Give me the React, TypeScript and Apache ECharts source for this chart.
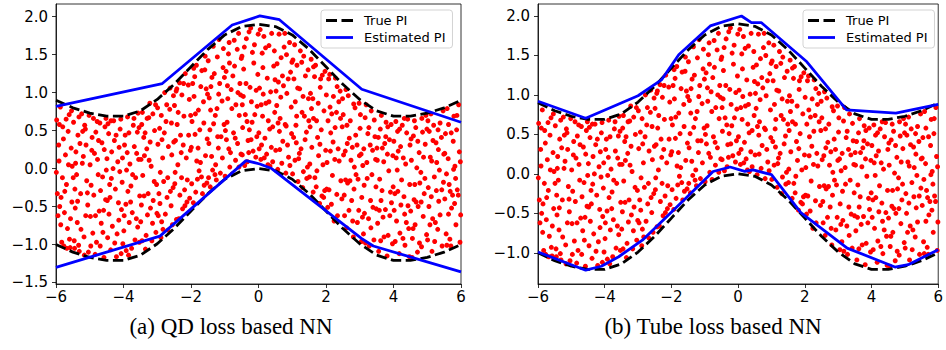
import { useEffect, useRef } from "react";
import * as echarts from "echarts";

// ---------- data ----------
const xTicks = [-6, -4, -2, 0, 2, 4, 6];
const yTicksQD = [-1.5, -1, -0.5, 0, 0.5, 1, 1.5, 2];
const yTicksTube = [-1, -0.5, 0, 0.5, 1, 1.5, 2];

const truePiX = [-6, -5.5, -5, -4.5, -4, -3.5, -3, -2.5, -2, -1.5, -1, -0.5, 0, 0.5, 1, 1.5, 2, 2.5, 3, 3.5, 4, 4.5, 5, 5.5, 6];
const truePiUpper = [0.9, 0.8, 0.73, 0.69, 0.69, 0.76, 0.91, 1.11, 1.34, 1.57, 1.76, 1.87, 1.9, 1.87, 1.76, 1.57, 1.34, 1.11, 0.91, 0.76, 0.69, 0.69, 0.73, 0.8, 0.9];
const truePiLower = [-1.0, -1.1, -1.17, -1.21, -1.21, -1.14, -0.99, -0.79, -0.56, -0.33, -0.14, -0.03, 0, -0.03, -0.14, -0.33, -0.56, -0.79, -0.99, -1.14, -1.21, -1.21, -1.17, -1.1, -1.0];

const qdUpperX = [-6, -2.85, -0.78, 0.04, 0.62, 3.06, 6];
const qdUpperY = [0.82, 1.12, 1.89, 2.01, 1.96, 1.045, 0.61];
const qdLowerX = [-6, -2.92, -0.37, 0.04, 0.39, 3.05, 3.4, 6];
const qdLowerY = [-1.3, -0.89, 0.105, 0.06, 0.0, -0.92, -1.02, -1.36];

const tubeUpperX = [-6, -4.57, -3.0, -2.3, -1.78, -0.835, 0.1, 0.4, 0.7, 2.06, 3.25, 4.73, 6];
const tubeUpperY = [0.92, 0.705, 0.99, 1.19, 1.51, 1.874, 2.0, 1.915, 1.915, 1.42, 0.81, 0.77, 0.88];
const tubeLowerX = [-6, -4.57, -4.1, -3.58, -2.87, -1.6, -0.75, -0.24, 0.2, 0.45, 1.0, 1.88, 3.27, 4.7, 5.1, 6];
const tubeLowerY = [-0.99, -1.22, -1.17, -1.05, -0.84, -0.32, 0.03, 0.087, 0.032, 0.05, -0.01, -0.49, -0.94, -1.18, -1.15, -0.96];

const samplePoints: [number, number][] = [
  [-5.96, -0.33], [-5.61, 0.71], [-5.83, -0.97], [-5.72, 0.18], [-5.53, -0.44], [-5.9, 0.58], [-5.66, -0.79], [-5.99, -0.05], [-5.78, 0.39], [-5.58, -1.04], [-5.87, 0.81], [-5.69, -0.21], [-5.94, -0.62], [-5.55, 0.27], [-5.81, -0.12], [-5.64, 0.49], [-5.75, -0.58], [-5.92, 0.31], [-5.6, -0.93], [-5.85, -0.38], [-5.7, 0.65], [-5.52, 0.03], [-5.77, -1.02],
  [-5.98, 0.64], [-5.86, -0.74], [-5.74, -0.3], [-5.63, 0.05], [-5.57, -0.66], [-5.91, 0.1], [-5.68, -1.05], [-5.8, 0.55], [-5.54, 0.76], [-5.89, -0.5],
  [-5.44, -0.27], [-5.13, 0.52], [-5.31, -1.09], [-5.06, -0.48], [-5.48, 0.61], [-5.22, 0.07], [-5.37, -0.71], [-5.02, 0.7], [-5.27, -0.33], [-5.41, 0.22], [-5.17, -0.9], [-5.35, 0.44], [-5.09, -0.16], [-5.46, -0.95], [-5.24, 0.72], [-5.12, -0.62], [-5.39, -0.08], [-5.29, 0.33], [-5.04, -1.1], [-5.19, 0.16], [-5.43, -0.52], [-5.33, -1.01], [-5.15, 0.57],
  [-5.49, -0.12], [-5.36, -0.43], [-5.26, -0.8], [-5.11, 0.31], [-5.42, 0.07], [-5.21, 0.49], [-5.07, -0.32], [-5.32, 0.68], [-5.45, -1.05], [-5.16, -1.14],
  [-4.93, 0.41], [-4.61, -0.84], [-4.77, 0.12], [-4.98, -0.63], [-4.55, 0.55], [-4.84, -1.13], [-4.68, -0.29], [-4.89, 0.66], [-4.72, -0.56], [-4.51, -0.02], [-4.96, -0.22], [-4.64, 0.34], [-4.8, -0.97], [-4.58, -1.17], [-4.86, 0.2], [-4.7, 0.6], [-4.53, -0.41], [-4.91, -0.85], [-4.75, -0.08], [-4.66, -0.72], [-4.82, 0.48], [-4.57, 0.25], [-4.99, 0.05],
  [-4.97, -1.02], [-4.88, -0.35], [-4.74, 0.37], [-4.62, -0.11], [-4.52, 0.66], [-4.83, -0.62], [-4.69, -1.02], [-4.59, -0.55], [-4.94, 0.24], [-4.78, 0.62],
  [-4.47, -0.91], [-4.13, 0.28], [-4.36, -0.13], [-4.21, -1.16], [-4.44, 0.46], [-4.06, -0.54], [-4.29, 0.63], [-4.4, -0.38], [-4.17, 0.09], [-4.02, -0.99], [-4.33, -0.76], [-4.49, 0.13], [-4.24, -0.27], [-4.1, 0.52], [-4.38, -1.07], [-4.27, 0.37], [-4.04, -0.18], [-4.43, -0.6], [-4.19, -0.86], [-4.31, 0.0], [-4.08, 0.65], [-4.46, 0.59], [-4.15, -0.45],
  [-4.48, -0.42], [-4.35, 0.22], [-4.26, -0.98], [-4.14, -0.68], [-4.03, 0.14], [-4.41, -0.21], [-4.22, 0.44], [-4.11, -0.04], [-4.37, 0.63], [-4.07, -1.12],
  [-3.97, 0.31], [-3.62, -0.66], [-3.85, -1.14], [-3.71, 0.57], [-3.93, -0.47], [-3.55, 0.12], [-3.78, -0.23], [-3.88, 0.68], [-3.66, -0.94], [-3.52, -0.36], [-3.81, 0.06], [-3.99, -0.82], [-3.59, 0.48], [-3.74, -0.58], [-3.91, -0.02], [-3.68, 0.29], [-3.83, -0.71], [-3.57, 0.73], [-3.95, 0.44], [-3.76, -1.05], [-3.64, -0.12], [-3.87, -0.3], [-3.53, -0.97],
  [-3.98, -0.62], [-3.89, 0.21], [-3.79, -0.44], [-3.69, 0.66], [-3.58, -0.77], [-3.92, -1.08], [-3.73, -0.08], [-3.61, 0.2], [-3.84, 0.47], [-3.54, 0.54],
  [-3.46, 0.58], [-3.12, -0.42], [-3.33, -0.88], [-3.21, 0.35], [-3.43, -0.09], [-3.05, 0.84], [-3.29, -0.61], [-3.38, 0.17], [-3.16, -0.95], [-3.49, -0.7], [-3.25, 0.67], [-3.02, -0.21], [-3.4, 0.41], [-3.18, 0.03], [-3.35, -1.06], [-3.08, 0.5], [-3.27, -0.33], [-3.44, 0.74], [-3.14, -0.72], [-3.31, 0.26], [-3.04, -0.84], [-3.47, -0.48], [-3.22, 0.86],
  [-3.48, 0.12], [-3.39, -0.36], [-3.3, 0.66], [-3.2, -0.52], [-3.09, -0.17], [-3.45, -0.95], [-3.24, 0.11], [-3.13, 0.72], [-3.36, 0.47], [-3.01, -0.59],
  [-2.97, -0.62], [-2.63, 0.78], [-2.84, 0.14], [-2.71, -0.38], [-2.93, 0.53], [-2.55, -0.74], [-2.78, 1.0], [-2.89, -0.91], [-2.67, 0.29], [-2.52, 0.96], [-2.81, -0.17], [-2.99, 0.8], [-2.59, -0.49], [-2.74, 0.62], [-2.91, -0.05], [-2.68, -0.81], [-2.86, 0.38], [-2.57, 0.18], [-2.95, -0.33], [-2.76, -0.6], [-2.62, 1.06], [-2.88, 0.7], [-2.53, -0.25],
  [-2.98, 0.32], [-2.87, -0.7], [-2.79, 0.47], [-2.69, -0.12], [-2.58, 0.6], [-2.92, -0.46], [-2.72, 0.84], [-2.61, -0.3], [-2.83, -0.8], [-2.51, 0.35],
  [-2.46, 0.37], [-2.12, -0.44], [-2.34, 1.13], [-2.21, 0.69], [-2.43, -0.67], [-2.05, 0.91], [-2.28, -0.12], [-2.39, 0.05], [-2.17, 1.25], [-2.49, 0.83], [-2.25, -0.53], [-2.02, 0.24], [-2.41, 0.58], [-2.19, -0.28], [-2.36, -0.66], [-2.08, 1.1], [-2.31, 0.44], [-2.44, 1.02], [-2.14, 0.14], [-2.27, 0.97], [-2.04, -0.39], [-2.48, -0.2], [-2.23, 0.31],
  [-2.47, -0.05], [-2.38, 0.74], [-2.29, 0.21], [-2.18, -0.49], [-2.07, 0.44], [-2.42, 1.05], [-2.22, 1.12], [-2.11, -0.15], [-2.33, -0.35], [-2.01, 0.7],
  [-1.97, 0.62], [-1.61, -0.22], [-1.84, 1.36], [-1.72, 0.08], [-1.93, -0.45], [-1.55, 1.05], [-1.78, 0.77], [-1.89, 1.21], [-1.66, -0.33], [-1.52, 0.39], [-1.81, -0.14], [-1.99, 0.28], [-1.58, 1.48], [-1.74, 0.51], [-1.91, 0.95], [-1.68, 1.29], [-1.86, -0.31], [-1.57, 0.17], [-1.95, 1.12], [-1.76, -0.03], [-1.63, 0.88], [-1.88, 0.45], [-1.53, -0.19],
  [-1.98, -0.2], [-1.87, 0.72], [-1.79, 0.27], [-1.69, -0.11], [-1.59, 1.3], [-1.92, 1.32], [-1.71, 1.08], [-1.62, 0.6], [-1.83, 0.1], [-1.51, 0.98],
  [-1.46, 0.93], [-1.13, -0.06], [-1.34, 1.61], [-1.21, 0.42], [-1.43, -0.24], [-1.05, 1.33], [-1.28, 0.7], [-1.39, 0.16], [-1.17, 1.7], [-1.49, 1.42], [-1.25, -0.15], [-1.02, 0.58], [-1.41, 1.08], [-1.19, 0.27], [-1.36, -0.02], [-1.08, 0.89], [-1.31, 1.25], [-1.44, 0.51], [-1.15, 1.12], [-1.27, 0.05], [-1.04, 1.58], [-1.48, -0.12], [-1.23, 0.79],
  [-1.47, 0.33], [-1.38, 1.2], [-1.29, -0.08], [-1.18, 0.98], [-1.07, 0.14], [-1.42, 0.77], [-1.22, 1.47], [-1.11, 0.42], [-1.33, 0.59], [-1.01, 1.2],
  [-0.96, 1.28], [-0.62, 0.33], [-0.85, 0.02], [-0.72, 1.69], [-0.93, 0.61], [-0.55, 1.12], [-0.78, -0.07], [-0.89, 1.51], [-0.67, 0.84], [-0.52, 0.19], [-0.81, 1.04], [-0.99, -0.1], [-0.59, 1.78], [-0.74, 0.47], [-0.91, 0.92], [-0.68, 0.11], [-0.86, 1.39], [-0.57, 0.7], [-0.95, 0.38], [-0.76, 1.22], [-0.63, 1.57], [-0.88, 0.26], [-0.53, 0.97],
  [-0.98, 0.5], [-0.87, 1.66], [-0.79, 0.79], [-0.69, 0.4], [-0.58, 0.02], [-0.92, 1.09], [-0.71, 1.35], [-0.61, 1.0], [-0.83, 0.21], [-0.51, 1.45],
  [-0.47, 0.54], [-0.12, 1.63], [-0.33, 0.09], [-0.21, 0.88], [-0.44, 1.31], [-0.05, 0.42], [-0.28, 1.8], [-0.39, 0.71], [-0.16, 0.23], [-0.49, 1.48], [-0.25, 1.07], [-0.02, 1.24], [-0.41, 0.04], [-0.19, 0.61], [-0.36, 1.71], [-0.08, 0.15], [-0.31, 0.37], [-0.45, 0.95], [-0.14, 1.39], [-0.27, 0.51], [-0.04, 0.82], [-0.48, 0.18], [-0.23, 1.85],
  [-0.48, 0.84], [-0.37, 1.12], [-0.29, 0.21], [-0.18, 1.53], [-0.07, 1.03], [-0.42, 1.6], [-0.22, 0.38], [-0.11, 0.71], [-0.34, 0.62], [-0.01, 1.77],
  [0.03, 1.06], [0.38, 0.28], [0.16, 1.74], [0.29, 0.63], [0.07, 0.12], [0.45, 1.35], [0.22, 0.86], [0.11, 1.52], [0.34, 0.03], [0.01, 0.47], [0.26, 1.19], [0.48, 0.74], [0.09, 0.31], [0.31, 1.62], [0.14, 0.98], [0.42, 0.09], [0.19, 0.4], [0.05, 1.83], [0.36, 1.01], [0.24, 0.19], [0.47, 1.55], [0.12, 0.69], [0.33, 0.52],
  [0.02, 0.26], [0.13, 1.33], [0.21, 1.59], [0.31, 0.88], [0.42, 0.55], [0.08, 0.84], [0.28, 0.05], [0.39, 1.78], [0.17, 0.14], [0.49, 1.17],
  [0.54, 0.83], [0.89, 0.15], [0.67, 1.46], [0.79, 0.58], [0.57, -0.01], [0.95, 1.27], [0.72, 0.36], [0.61, 1.77], [0.84, 0.99], [0.51, 0.24], [0.76, 1.6], [0.98, 0.46], [0.59, 1.14], [0.81, -0.06], [0.64, 0.66], [0.92, 1.66], [0.69, 0.07], [0.55, 1.38], [0.86, 0.31], [0.74, 1.09], [0.97, 0.81], [0.62, 0.49], [0.83, 1.5],
  [0.52, 1.02], [0.63, 0.25], [0.71, 1.22], [0.82, 0.56], [0.93, 0.04], [0.58, 0.6], [0.78, 1.78], [0.88, 1.18], [0.66, 0.94], [0.99, 1.4],
  [1.04, 0.41], [1.39, 1.22], [1.17, -0.17], [1.29, 0.74], [1.07, 1.63], [1.45, 0.02], [1.22, 1.05], [1.11, 0.57], [1.34, 1.48], [1.01, -0.07], [1.26, 0.26], [1.48, 0.92], [1.09, 0.88], [1.31, -0.25], [1.14, 1.36], [1.42, 0.48], [1.19, 0.13], [1.05, 1.18], [1.36, 0.69], [1.24, 1.55], [1.47, 1.3], [1.12, 0.34], [1.33, -0.04],
  [1.02, 1.43], [1.13, 0.69], [1.21, 0.2], [1.32, 0.95], [1.43, -0.13], [1.08, 0.11], [1.28, 1.4], [1.38, 0.38], [1.16, 1.06], [1.49, 0.63],
  [1.53, 0.55], [1.88, -0.36], [1.66, 1.21], [1.78, 0.17], [1.56, 1.44], [1.94, 0.76], [1.71, -0.24], [1.61, 0.92], [1.83, 1.07], [1.51, -0.11], [1.75, 0.41], [1.97, 1.28], [1.58, 0.28], [1.81, -0.46], [1.63, 0.66], [1.91, 0.05], [1.69, 1.36], [1.54, 0.99], [1.86, 0.51], [1.73, -0.03], [1.96, -0.29], [1.62, -0.31], [1.84, 1.18],
  [1.52, 0.06], [1.63, 1.34], [1.72, 0.63], [1.82, 0.32], [1.93, -0.38], [1.57, 0.79], [1.77, 0.86], [1.89, 1.23], [1.67, -0.12], [1.99, 0.24],
  [2.03, 0.08], [2.38, 0.88], [2.16, -0.47], [2.28, 1.19], [2.06, 0.63], [2.44, -0.16], [2.21, 0.35], [2.11, 1.24], [2.34, -0.62], [2.01, 0.97], [2.26, 0.12], [2.48, 0.55], [2.09, -0.28], [2.31, 0.74], [2.14, 0.47], [2.42, 1.02], [2.19, -0.09], [2.05, -0.51], [2.36, 0.26], [2.24, -0.69], [2.47, -0.4], [2.12, 0.81], [2.33, 1.08],
  [2.02, -0.27], [2.13, 0.23], [2.22, 0.95], [2.32, -0.34], [2.43, 0.66], [2.08, 1.18], [2.27, 0.54], [2.39, 0.1], [2.17, 0.72], [2.49, 0.92],
  [2.54, -0.35], [2.88, 0.44], [2.66, 0.96], [2.79, -0.69], [2.57, 0.23], [2.95, -0.14], [2.72, 0.63], [2.61, -0.78], [2.84, 0.02], [2.51, 0.71], [2.76, -0.42], [2.98, 0.86], [2.59, 1.04], [2.81, -0.9], [2.64, -0.19], [2.92, 0.31], [2.69, 0.4], [2.55, -0.62], [2.86, 0.8], [2.74, 0.11], [2.97, -0.55], [2.62, 0.57], [2.83, -0.27],
  [2.52, 0.18], [2.63, 0.33], [2.71, -0.16], [2.82, 0.85], [2.93, -0.71], [2.58, -0.15], [2.78, 0.28], [2.89, -0.08], [2.68, -0.55], [2.99, 0.17],
  [3.04, 0.19], [3.39, -0.51], [3.16, 0.67], [3.28, -1.02], [3.06, -0.38], [3.45, 0.42], [3.22, -0.13], [3.11, -0.86], [3.34, 0.76], [3.01, 0.53], [3.26, -0.66], [3.48, -0.24], [3.09, 0.04], [3.31, 0.31], [3.14, -0.59], [3.42, -0.94], [3.19, 0.84], [3.05, -0.96], [3.36, -0.08], [3.24, 0.46], [3.47, 0.12], [3.12, 0.26], [3.33, -0.78],
  [3.02, 0.71], [3.13, -0.22], [3.21, 0.08], [3.32, -0.42], [3.43, 0.64], [3.08, -0.64], [3.27, 0.54], [3.38, 0.24], [3.17, -0.98], [3.49, -0.53],
  [3.53, -0.72], [3.88, 0.38], [3.66, -0.29], [3.78, 0.61], [3.56, -1.09], [3.94, -0.45], [3.71, 0.09], [3.61, 0.52], [3.84, -0.88], [3.51, 0.27], [3.76, -0.54], [3.98, 0.17], [3.59, -0.14], [3.81, -1.15], [3.64, 0.7], [3.91, -0.31], [3.69, -0.64], [3.55, 0.41], [3.86, -0.03], [3.74, 0.33], [3.97, -0.99], [3.62, -0.95], [3.83, 0.55],
  [3.52, 0.11], [3.63, -0.42], [3.72, -0.9], [3.82, 0.19], [3.93, 0.58], [3.58, -0.55], [3.77, 0.42], [3.89, -0.62], [3.67, 0.27], [3.99, -0.24],
  [4.04, -0.33], [4.39, 0.47], [4.17, -1.12], [4.29, 0.14], [4.07, 0.62], [4.45, -0.79], [4.22, -0.48], [4.11, -0.02], [4.34, -1.01], [4.01, 0.36], [4.26, 0.57], [4.48, -0.21], [4.09, -0.69], [4.31, -0.37], [4.14, 0.23], [4.42, 0.65], [4.19, -0.85], [4.05, -0.96], [4.36, 0.06], [4.24, -0.15], [4.47, -1.16], [4.12, 0.49], [4.33, -0.6],
  [4.02, -0.55], [4.13, -0.3], [4.21, 0.29], [4.32, 0.66], [4.43, -0.49], [4.08, 0.14], [4.28, -0.92], [4.38, -0.71], [4.18, 0.52], [4.49, 0.31],
  [4.53, 0.11], [4.88, -0.63], [4.66, 0.54], [4.78, -0.19], [4.56, -0.92], [4.94, 0.32], [4.71, -1.1], [4.61, -0.41], [4.84, 0.66], [4.51, -0.56], [4.76, 0.21], [4.98, -0.87], [4.59, 0.43], [4.81, -0.05], [4.64, -0.74], [4.91, -0.33], [4.69, 0.01], [4.55, -1.17], [4.86, 0.48], [4.73, -0.5], [4.96, 0.7], [4.62, 0.63], [4.83, -1.03],
  [4.52, 0.39], [4.63, -0.21], [4.72, 0.36], [4.82, -0.44], [4.93, -0.13], [4.58, -0.79], [4.77, -0.98], [4.89, 0.15], [4.67, -0.44], [4.99, 0.52],
  [5.03, -0.25], [5.38, 0.6], [5.16, -0.66], [5.28, 0.08], [5.06, 0.49], [5.44, -1.02], [5.21, -0.11], [5.11, 0.72], [5.34, -0.43], [5.01, -0.94], [5.26, 0.34], [5.48, -0.18], [5.09, 0.15], [5.31, -0.8], [5.14, -1.09], [5.42, 0.41], [5.19, 0.57], [5.05, -0.5], [5.36, -0.02], [5.24, -0.71], [5.47, 0.76], [5.12, -0.37], [5.33, 0.25],
  [5.02, 0.63], [5.13, 0.1], [5.22, -0.96], [5.32, 0.51], [5.43, -0.28], [5.08, -0.74], [5.27, -0.29], [5.38, -0.61], [5.17, 0.37], [5.49, 0.19],
  [5.54, 0.46], [5.89, -0.28], [5.67, -0.93], [5.79, 0.69], [5.57, -0.07], [5.95, 0.22], [5.72, -0.52], [5.62, 0.13], [5.85, -0.74], [5.52, -0.4], [5.77, 0.36], [5.99, -0.61], [5.59, 0.79], [5.82, 0.03], [5.65, -0.21], [5.93, 0.84], [5.7, -1.02], [5.56, -0.86], [5.87, 0.51], [5.75, -0.35], [5.97, -0.97], [5.63, 0.58], [5.84, -0.13],
  [5.52, 0.2], [5.63, -0.6], [5.71, 0.47], [5.81, -0.46], [5.92, -0.35], [5.58, -1.01], [5.78, -0.01], [5.88, 0.7], [5.68, -0.3], [5.98, 0.09],
];

const seriesNames = ["True PI", "Estimated PI"];
const captions = ["(a) QD loss based NN", "(b) Tube loss based NN"];

// ---------- helpers ----------
const zip = (xs: number[], ys: number[]) => xs.map((x, i) => [x, ys[i]]);
const fmt = (v: number, d: number) => {
  const r = Math.round(v * 1000) / 1000;
  return (r < 0 ? "\u2212" : "") + Math.abs(r).toFixed(d);
};
const FONT = "DejaVu Sans";
const LW = 2.8;
const DASH = [10.4, 4.5];

function makeXAxis(gridIndex: number) {
  return {
    type: "value",
    gridIndex,
    min: xTicks[0],
    max: xTicks[xTicks.length - 1],
    interval: 2,
    axisLine: { show: true, onZero: false, lineStyle: { color: "#000", width: 0.8 } },
    axisTick: { show: true, length: 4, lineStyle: { color: "#000", width: 0.8 } },
    axisLabel: {
      margin: 5,
      fontSize: 15,
      fontFamily: FONT,
      color: "#000",
      formatter: (v: number) => fmt(v, 0),
    },
    splitLine: { show: false },
  };
}

function makeYAxis(gridIndex: number, min: number, max: number, ticks: number[]) {
  return {
    type: "value",
    gridIndex,
    min,
    max,
    axisLine: { show: true, onZero: false, lineStyle: { color: "#000", width: 0.8 } },
    axisTick: { show: true, length: 4, customValues: ticks, lineStyle: { color: "#000", width: 0.8 } },
    axisLabel: {
      margin: 8,
      fontSize: 15,
      fontFamily: FONT,
      color: "#000",
      customValues: ticks,
      formatter: (v: number) => fmt(v, 1),
    },
    splitLine: { show: false },
  };
}

function lineSeries(idx: number, name: string, data: number[][], color: string, dashed: boolean, z: number) {
  return {
    xAxisIndex: idx,
    yAxisIndex: idx,
    type: "line",
    name,
    data,
    showSymbol: false,
    symbol: "none",
    lineStyle: { color, width: LW, type: dashed ? DASH : "solid" },
    itemStyle: { color },
    z,
  };
}

function panelSeries(idx: number, estUpper: number[][], estLower: number[][]) {
  return [
    {
      xAxisIndex: idx,
      yAxisIndex: idx,
      type: "scatter",
      name: "points",
      data: samplePoints,
      symbolSize: 5,
      itemStyle: { color: "#ff0000", opacity: 1 },
      z: 1,
      silent: true,
    },
    lineSeries(idx, seriesNames[0], zip(truePiX, truePiUpper), "#000000", true, 2),
    lineSeries(idx, seriesNames[0], zip(truePiX, truePiLower), "#000000", true, 2),
    lineSeries(idx, seriesNames[1], estUpper, "#0000ff", false, 3),
    lineSeries(idx, seriesNames[1], estLower, "#0000ff", false, 3),
  ];
}

const DASH_ICON = "path://M0,0H11V2.8H0Z M15.5,0H27V2.8H15.5Z";
const SOLID_ICON = "path://M0,0H27V2.8H0Z";

function makeLegend(left: number) {
  return {
    left,
    top: 10,
    orient: "vertical",
    data: [
      { name: seriesNames[0], icon: DASH_ICON },
      { name: seriesNames[1], icon: SOLID_ICON },
    ],
    selectedMode: false,
    itemWidth: 27,
    itemHeight: 12,
    itemGap: 4,
    padding: [4, 7, 4, 5],
    borderColor: "#d3d3d3",
    borderWidth: 1,
    borderRadius: 3,
    backgroundColor: "rgba(255,255,255,0.8)",
    textStyle: { fontSize: 13, fontFamily: FONT, color: "#000", padding: [0, 0, 0, 6] },
  };
}

export default function App() {
  const ref = useRef<HTMLDivElement>(null);
  useEffect(() => {
    if (!ref.current) return;
    const chart = echarts.init(ref.current, undefined, { renderer: "svg" });
    const option = {
      animation: false,
      backgroundColor: "#fff",
      grid: [
        { left: 56, right: 485, top: 4, bottom: 66, show: true, borderColor: "#000", borderWidth: 0.8, backgroundColor: "transparent" },
        { left: 538, right: 4, top: 4, bottom: 66, show: true, borderColor: "#000", borderWidth: 0.8, backgroundColor: "transparent" },
      ],
      xAxis: [makeXAxis(0), makeXAxis(1)],
      yAxis: [makeYAxis(0, -1.52, 2.167, yTicksQD), makeYAxis(1, -1.395, 2.152, yTicksTube)],
      legend: [makeLegend(321), makeLegend(803)],
      series: [
        ...panelSeries(0, zip(qdUpperX, qdUpperY), zip(qdLowerX, qdLowerY)),
        ...panelSeries(1, zip(tubeUpperX, tubeUpperY), zip(tubeLowerX, tubeLowerY)),
      ],
      graphic: [
        {
          type: "text",
          x: 231,
          y: 326,
          style: { text: captions[0], fontSize: 23, fontFamily: "Liberation Serif", fill: "#000", align: "center", verticalAlign: "middle" },
        },
        {
          type: "text",
          x: 713,
          y: 326,
          style: { text: captions[1], fontSize: 23, fontFamily: "Liberation Serif", fill: "#000", align: "center", verticalAlign: "middle" },
        },
      ],
    };
    chart.setOption(option as any);
    return () => chart.dispose();
  }, []);
  return <div ref={ref} style={{ position: "absolute", left: 0, top: 0, width: 946, height: 350 }} />;
}
